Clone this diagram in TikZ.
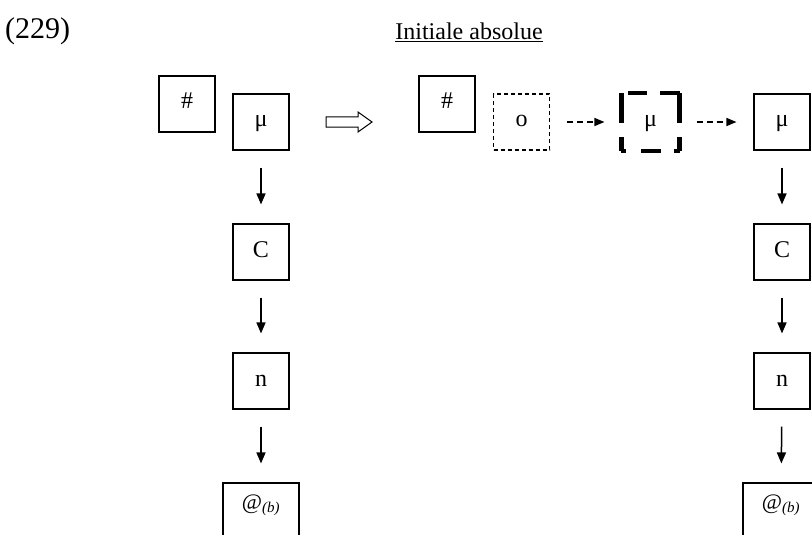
\documentclass[tikz,border=0pt]{standalone}
\usepackage{fontspec}
\setmainfont{Liberation Serif}
\usetikzlibrary{arrows.meta}
\begin{document}
\begin{tikzpicture}[x=1pt,y=-1pt,
  box/.style={draw,line width=1.1pt,minimum size=56pt,inner sep=0pt,
    font=\fontsize{24}{28}\selectfont,text height=17pt,text depth=7pt},
  dbox/.style={box,dash pattern=on 4pt off 3pt},
  tbox/.style={box,draw=none,minimum size=57pt},
  tseg/.style={line width=4.5pt,line cap=butt},
  abox/.style={draw,line width=1.1pt,minimum width=76pt,minimum height=56pt,inner sep=0pt},
  atlabel/.style={font=\fontsize{22}{26}\selectfont,yshift=6pt},
  arr/.style={-{Triangle[length=11pt,width=9pt]},line width=1.5pt,shorten <=17pt,shorten >=19pt},
  darr/.style={-{Triangle[length=10pt,width=8pt]},line width=1.5pt,dash pattern=on 6pt off 4pt,shorten <=17pt,shorten >=17pt},
  hollow/.style={draw,line width=1pt,line join=miter}
]
\useasboundingbox (0,0) rectangle (812,535);
\clip (0,0) rectangle (812,535);

% titles
\node[anchor=west,font=\fontsize{30}{34}\selectfont,inner sep=0pt] (num) at (5,31) {(229)};
\node[font=\fontsize{24}{28}\selectfont,inner sep=0pt] (title) at (469,32) {\underline{Initiale absolue}};

% left column
\node[box] (h1) at (187,104) {\#};
\node[box] (m1) at (261,122) {μ};
\node[box] (c1) at (261,252) {C};
\node[box] (n1) at (261,381) {n};
\node[abox,label={[atlabel]center:{@\textsubscript{\fontsize{15}{17}\selectfont\itshape (b)}}}] (a1) at (261,511) {};

\draw[arr] (m1) -- (c1);
\draw[arr] (c1) -- (n1);
\draw[arr] (n1) -- (a1);

% hollow implication arrow
\draw[hollow] (326,117) -- (358,117) -- (358,112) -- (372,122) -- (358,132) -- (358,127) -- (326,127) -- cycle;

% right side
\node[box] (h2) at (447,104) {\#};
\node[dbox] (o2) at (521.5,122) {o};
\node[tbox] (mu2) at (650.5,122) {μ};
% thick broken frame of mu2
\draw[tseg] ([xshift=7pt]mu2.north west) -- ([xshift=26pt]mu2.north west);
\draw[tseg] ([xshift=39pt]mu2.north west) -- (mu2.north east);
\draw[tseg] (mu2.north east) -- ([yshift=-30pt]mu2.north east);
\draw[tseg] ([yshift=-44pt]mu2.north east) -- (mu2.south east);
\draw[tseg] (mu2.north west) -- ([yshift=-30pt]mu2.north west);
\draw[tseg] ([yshift=-44pt]mu2.north west) -- (mu2.south west);
\draw[tseg] (mu2.south west) -- ([xshift=5pt]mu2.south west);
\draw[tseg] ([xshift=20pt]mu2.south west) -- ([xshift=40pt]mu2.south west);
\draw[tseg] ([xshift=53pt]mu2.south west) -- (mu2.south east);
\node[box] (m2) at (782,122) {μ};
\node[box] (c2) at (782,252) {C};
\node[box] (n2) at (782,381) {n};
\node[abox,label={[atlabel]center:{@\textsubscript{\fontsize{15}{17}\selectfont\itshape (b)}}}] (a2) at (781,511) {};

\draw[darr] (o2) -- (mu2);
\draw[darr] (mu2) -- (m2);
\draw[arr] (m2) -- (c2);
\draw[arr] (c2) -- (n2);
\draw[arr] (n2) -- (a2);
\end{tikzpicture}
\end{document}
